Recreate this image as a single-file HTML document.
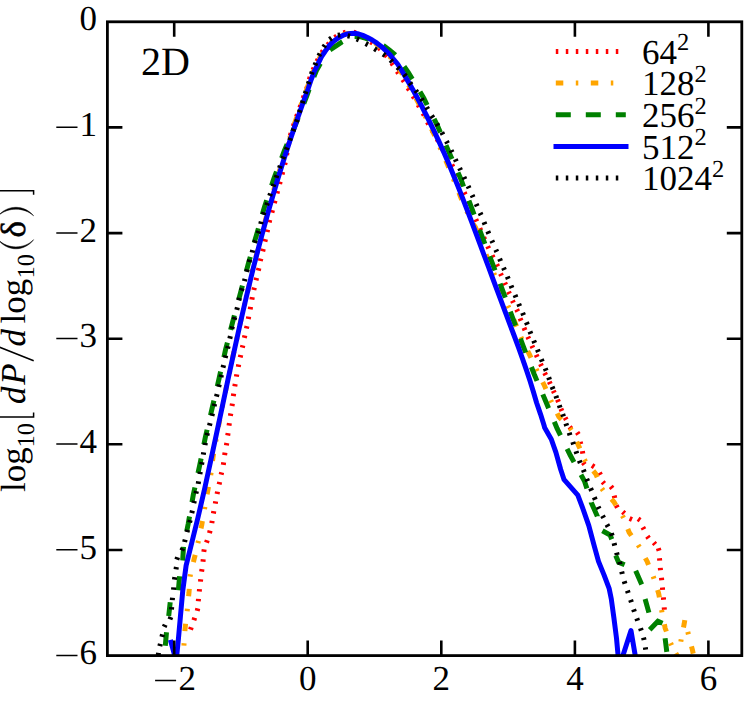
<!DOCTYPE html>
<html><head><meta charset="utf-8"><title>2D PDF</title>
<style>html,body{margin:0;padding:0;background:#fff}svg{display:block}text{text-rendering:geometricPrecision}</style></head>
<body>
<svg width="748" height="703" viewBox="0 0 748 703">
<rect width="748" height="703" fill="#fff"/>
<defs><clipPath id="c"><rect x="107.4" y="21.8" width="634.4" height="633.8000000000001"/></clipPath></defs>
<g clip-path="url(#c)" fill="none" stroke-width="5" stroke-linejoin="miter" stroke-linecap="butt">
<path d="M190.5,629.6L191.3,627.2 M193.9,620.2L194.7,617.8 M197.2,610.8L197.8,608.4 M198.3,601.3L198.5,598.9 M199.3,591.5L199.5,589.1 M200.5,581.6L200.7,579.2 M201.6,571.6L202.0,569.2 M203.0,561.7L203.2,559.3 M203.8,551.8L204.2,549.4 M206.5,542.6L207.3,540.2 M209.5,533.1L210.1,530.7 M211.8,523.2L212.2,520.8 M213.4,513.5L213.8,511.1 M215.3,503.7L215.7,501.3 M217.1,494.0L217.5,491.6 M219.1,484.4L219.7,482.0 M221.1,474.7L221.7,472.3 M223.3,464.8L223.7,462.4 M224.6,455.1L225.0,452.7 M226.4,445.4L226.8,443.0 M227.7,435.5L228.1,433.1 M229.0,425.6L229.4,423.2 M230.4,415.9L230.8,413.5 M232.0,406.0L232.4,403.6 M233.3,396.1L233.7,393.7 M234.8,386.4L235.2,384.0 M236.4,376.7L236.8,374.3 M238.3,366.9L238.7,364.5 M240.2,357.4L240.8,355.0 M242.3,347.7L242.9,345.3 M244.3,337.9L244.9,335.5 M246.4,328.5L247.0,326.1 M248.3,319.0L248.7,316.6 M250.2,309.3L250.6,306.9 M251.9,299.6L252.3,297.2 M253.8,290.0L254.4,287.6 M256.0,280.3L256.6,277.9 M258.3,270.6L258.9,268.2 M260.3,261.0L260.9,258.6 M262.7,251.3L263.3,248.9 M264.9,241.6L265.5,239.2 M267.1,232.0L267.7,229.6 M269.2,222.3L269.8,219.9 M271.9,212.6L272.5,210.2 M274.4,203.1L275.0,200.7 M277.0,193.4L277.6,191.0 M279.6,184.0L280.2,181.6 M282.1,174.3L282.7,171.9 M284.7,164.7L285.3,162.3 M286.6,155.0L287.0,152.6 M288.4,145.3L288.8,142.8 M290.4,135.6L291.0,133.2 M293.3,126.2L294.1,123.8 M296.5,116.9L297.4,114.5 M299.9,107.6L300.7,105.2 M303.2,98.3L304.0,95.9 M306.6,89.0L307.4,86.6 M309.3,79.5L310.1,77.1 M313.0,70.0L314.0,67.8 M316.9,61.4L318.1,59.2 M321.7,52.8L323.1,50.8 M327.6,44.9L329.2,43.1 M334.7,37.5L336.7,36.1 M343.3,32.9L345.7,32.3 M353.6,32.3L356.0,32.9 M362.4,36.5L364.6,37.8 M370.7,41.9L372.7,43.3 M378.7,47.7L380.5,49.3 M385.4,54.6L387.0,56.6 M391.7,63.0L393.1,65.0 M397.1,71.4L398.5,73.4 M402.7,79.6L404.1,81.6 M407.9,87.9L409.3,90.1 M413.1,96.1L414.3,98.3 M418.1,104.7L419.3,106.9 M423.0,113.2L424.2,115.4 M427.4,122.0L428.6,124.2 M432.3,130.5L433.5,132.7 M437.1,139.1L438.3,141.3 M441.8,147.8L443.0,150.0 M446.4,156.5L447.6,158.7 M451.8,164.7L453.0,166.9 M456.0,173.9L457.0,176.2 M460.1,183.1L461.1,185.4 M464.2,192.4L465.2,194.6 M468.1,201.3L469.1,203.6 M471.9,210.3L472.9,212.6 M475.8,219.3L476.8,221.5 M479.8,228.3L480.8,230.5 M483.7,237.3L484.7,239.5 M487.7,246.3L488.7,248.5 M492.1,255.4L493.3,257.6 M496.7,264.4L497.7,266.6 M500.5,273.6L501.5,275.8 M504.7,282.7L505.7,284.9 M508.5,291.7L509.5,293.9 M512.4,300.6L513.4,302.8 M516.7,309.4L517.7,311.6 M520.1,318.4L521.1,320.8 M524.0,327.8L525.0,330.2 M527.8,336.7L528.8,338.9 M531.9,345.7L532.9,347.9 M536.2,354.8L537.2,357.0 M540.5,363.9L541.5,366.1 M544.6,372.9L545.8,375.1 M549.3,381.8L550.3,384.0 M553.3,390.7L554.3,392.9 M557.5,399.6L558.5,402.0 M560.9,408.8L561.9,411.0 M565.1,417.6L566.3,419.8 M569.6,426.9L571.2,428.9 M577.1,432.4L578.5,434.4 M580.2,441.8L580.8,444.2 M582.4,451.2L582.8,453.6 M583.0,462.5L584.6,464.5 M592.0,465.4L594.2,466.8 M599.4,472.7L600.6,474.9 M602.6,481.9L604.2,483.7 M610.8,486.4L612.4,488.4 M614.2,495.6L614.8,498.0 M616.2,505.4L617.4,507.6 M622.7,511.8L624.5,513.4 M629.6,518.5L632.0,519.5 M638.1,518.8L640.1,520.2 M642.8,527.2L644.0,529.4 M647.3,536.3L648.7,538.3 M653.7,542.6L655.3,544.4 M658.3,548.3L659.1,550.7 M659.5,558.2L659.7,560.6 M660.3,567.9L660.5,570.3 M661.5,577.8L661.7,580.2 M662.4,587.5L662.6,589.9 M663.4,597.4L663.6,599.8 M664.2,607.4L664.4,609.8" stroke="#ff0000"/>
<path d="M183.9,645.6L184.1,643.2 M184.9,631.1L185.2,627.4L185.6,623.7 M187.2,611.2L187.4,608.8 M188.6,596.3L189.0,592.6L189.3,588.9 M190.1,576.7L190.5,574.3 M193.4,562.1L194.3,558.4L195.2,554.8 M197.9,543.2L198.5,540.8 M201.0,528.4L201.8,524.7L202.4,521.0 M204.5,509.2L204.9,506.8 M207.1,494.3L207.8,490.6L208.5,486.9 M210.7,475.1L211.1,472.7 M212.5,461.0L213.0,457.3L213.6,453.6 M215.8,441.4L216.2,439.0 M218.4,426.8L219.8,419.5 M222.2,407.3L222.7,404.9 M225.2,392.8L226.7,385.5 M229.3,373.4L229.8,370.9 M232.4,358.9L234.0,351.5 M236.7,339.5L237.2,337.0 M239.9,325.0L241.0,320.0L241.5,317.7 M244.3,305.6L244.9,303.2 M247.7,291.2L249.4,283.9 M252.2,271.9L252.8,269.4 M255.8,257.4L257.6,250.2 M260.6,238.2L261.2,235.8 M264.4,223.8L266.4,216.6 M269.6,204.7L270.3,202.3 M273.7,190.4L275.7,183.2 M279.3,171.4L280.0,169.0 M283.6,157.2L285.9,150.0 M289.7,138.2L290.4,135.9 M294.3,124.2L295.6,120.5L296.8,117.1 M300.9,105.4L301.7,103.1 M306.0,91.5L306.9,88.8L308.4,84.4 M312.6,72.8L313.6,70.5 M319.0,59.4L320.2,56.8L322.8,52.9 M330.4,43.2L332.3,41.6 M342.6,35.0L345.6,34.0L349.6,33.4L349.9,33.4 M361.9,35.7L364.2,36.7 M374.9,42.8L375.4,43.2L380.0,46.7L380.8,47.4 M389.5,56.1L391.1,58.1 M398.5,67.9L399.5,69.5L402.4,74.3 M408.6,85.0L409.8,87.2 M415.8,98.0L419.3,104.6 M425.0,115.6L426.1,117.8 M431.5,128.9L431.9,129.8L434.7,135.7 M439.8,147.0L440.8,149.2 M445.8,160.6L447.3,164.1L448.7,167.5 M453.4,178.9L454.3,181.2 M458.9,192.7L461.1,198.3L461.7,199.6 M466.8,210.9L467.8,213.2 M473.3,224.2L475.4,227.3L476.8,230.8 M480.8,240.5L481.8,242.9 M486.0,254.3L487.3,257.8L488.8,261.3 M493.8,273.2L494.8,275.4 M499.7,286.9L501.2,290.3L502.7,293.7 M507.9,305.7L508.9,307.9 M513.7,319.5L515.2,323.0L516.6,326.5 M520.9,337.0L521.9,339.2 M527.7,351.0L529.4,354.4L531.0,357.8 M536.2,369.0L537.2,371.2 M542.7,382.1L544.4,385.5L545.9,388.9 M550.7,400.2L551.7,402.4 M557.2,413.3L558.9,416.7L561.5,419.4 M570.0,428.1L571.4,430.1 M576.8,441.8L578.4,445.2L579.9,448.6 M584.4,459.5L585.6,461.7 M593.3,470.9L595.7,473.8L597.2,477.2 M601.8,488.5L603.2,490.5 M611.5,499.2L614.0,502.0L615.9,505.2 M622.4,515.7L623.6,517.9 M627.8,529.0L629.2,532.5L631.4,535.6 M638.1,545.0L639.5,547.2 M645.3,558.1L647.1,561.4L648.5,564.9 M653.2,576.4L654.0,578.8 M657.6,590.1L658.7,593.7L659.4,597.4 M661.6,610.0L662.0,612.4 M664.4,624.3L665.1,628.0L666.4,631.5 M670.6,643.1L671.6,645.3 M675.8,653.2L677.6,656.5L677.9,660.2 M680.8,641.7L681.2,639.3 M683.5,627.5L684.2,623.8L684.8,620.1 M687.8,631.9L688.4,634.3 M691.5,646.3L692.4,649.9L693.2,653.6" stroke="#ffa500"/>
<path d="M186.7,531.3L188.2,523.9L189.5,516.5 M192.0,502.2L193.3,494.8L194.9,487.5 M198.0,473.1L199.6,465.8L201.1,458.4 M203.9,444.4L205.4,437.0L207.1,429.7 M210.5,415.2L212.2,407.9L213.9,400.6 M217.3,386.2L219.0,378.9L220.6,371.6 M223.9,357.2L225.5,349.9L227.4,342.6 M230.6,329.9L232.5,322.6L234.4,315.4 M238.6,300.0L240.5,292.8L242.4,285.6 M246.3,271.3L248.2,264.1L250.3,256.9 M254.2,242.8L256.3,235.6L258.4,228.4 M262.3,214.5L264.4,207.3L266.7,200.2 M271.6,185.6L273.9,178.5L276.5,171.5 M281.6,158.2L284.2,151.2L287.1,144.3 M292.6,131.6L295.5,124.7L298.2,117.7 M303.8,103.5L306.5,96.5L309.1,89.5 M313.9,76.9L316.7,69.9L320.4,63.4 M329.9,50.0L330.0,49.8L336.1,45.8L341.7,42.1L342.4,41.7 M354.6,36.6L360.0,36.7L366.0,38.3L369.1,39.5 M383.5,45.8L384.0,46.0L389.6,50.1L395.2,54.8L395.3,54.9 M404.1,66.5L408.4,72.7L412.3,79.1 M420.0,91.8L423.8,98.3L427.1,105.0 M434.1,118.9L437.4,125.6L440.4,132.5 M446.0,145.3L449.0,152.2L452.0,159.1 M458.0,172.6L461.0,179.5L463.6,186.5 M468.9,200.6L471.5,207.6L474.1,214.6 M479.6,229.8L482.2,236.8L484.9,243.8 M489.7,256.3L492.4,263.3L495.0,270.3 M500.1,283.6L502.7,290.6L505.3,297.6 M510.3,311.7L512.9,318.7L515.5,325.7 M520.4,338.7L523.0,345.7L525.7,352.7 M531.4,367.0L534.1,374.0L537.0,380.9 M542.8,394.4L545.7,401.3L548.6,408.2 M554.3,421.7L557.2,428.6L560.5,435.3 M567.1,448.8L570.4,455.5L574.0,462.1 M581.0,474.8L584.6,481.4L586.9,488.6 M591.3,502.5L591.3,502.6L597.3,516.2L597.3,516.3 M165.3,645.8L166.5,632.2 M168.7,615.9L170.2,602.3 M178.4,590.3L179.6,576.2 M182.7,560.5L183.5,546.8 M602.4,530.7L610.1,535.0L611.8,539.2 M615.7,555.5L618.6,562.3L624.6,564.8 M635.7,570.8L641.7,584.5 M645.1,599.0L648.9,612.7 M649.7,629.7L657.9,621.2L662.5,623.2 M665.1,638.3L666.8,651.9" stroke="#008000"/>
<path d="M170.4,639.8L176.2,661.0L178.4,639.0L180.4,616.8L182.7,591.2L186.1,565.6L191.7,543.0L198.1,517.0L204.8,488.0L211.1,459.0L217.3,430.0L222.2,407.0L228.3,378.0L234.6,349.0L241.0,320.0L246.3,297.0L253.3,268.0L260.8,239.0L268.7,210.0L271.4,200.7L277.4,180.2L284.3,158.0L290.4,139.2L296.8,120.5L304.0,100.0L308.1,88.8L311.2,79.5L314.3,71.5L318.0,63.8L321.4,56.8L325.3,51.0L329.4,45.4L334.0,41.0L338.8,37.4L342.8,35.4L346.8,34.0L350.8,33.4L354.8,33.3L358.8,34.0L362.8,35.4L367.5,37.5L372.2,40.0L377.0,43.2L381.6,46.7L385.8,50.6L389.6,54.2L393.0,58.5L397.6,64.0L401.1,69.5L406.5,78.6L414.3,92.3L421.2,105.1L428.0,118.5L433.5,129.8L438.9,141.4L444.0,152.8L448.9,164.1L453.6,175.5L458.2,186.9L462.7,198.3L467.1,209.8L471.5,221.4L475.8,232.8L480.0,244.1L484.2,255.5L488.5,266.9L492.7,278.3L497.0,289.8L501.3,301.4L505.6,312.8L509.8,324.1L514.1,335.5L518.3,346.9L522.4,358.3L526.3,369.6L529.9,380.5L533.3,391.4L536.6,402.8L540.5,414.1L544.1,425.5L544.7,427.8L551.3,439.2L555.9,452.4L560.7,469.5L564.1,479.7L577.8,495.1L582.9,508.7L588.8,525.6L593.8,544.4L598.5,561.4L604.1,575.1L609.2,588.7L611.3,599.0L613.9,617.8L616.5,638.3L618.5,660.0L621.5,660.0L631.0,630.6L636.0,660.0" stroke="#0000ff" stroke-linejoin="round"/>
<path d="M158.2,655.2L158.6,652.8 M159.8,646.2L160.4,643.8 M161.9,636.8L162.5,634.4 M164.2,626.9L165.2,624.7 M169.9,619.4L170.9,617.0 M171.5,609.5L171.7,607.1 M172.3,600.1L172.5,597.7 M173.5,589.8L173.7,587.4 M174.4,579.6L174.8,577.2 M176.0,569.4L176.4,567.0 M176.8,559.6L177.6,557.2 M181.8,550.5L182.8,548.3 M184.6,542.0L185.2,539.6 M187.0,532.2L187.6,529.8 M189.6,522.5L190.2,520.1 M191.8,513.1L192.4,510.7 M193.8,503.2L194.4,500.8 M195.9,493.5L196.5,491.1 M198.2,483.8L198.6,481.4 M199.9,474.2L200.3,471.8 M201.6,464.5L202.0,462.1 M203.3,454.7L203.7,452.3 M205.0,445.2L205.4,442.8 M206.9,435.4L207.5,433.0 M209.5,425.6L210.1,423.2 M211.9,415.9L212.5,413.5 M214.1,406.2L214.7,403.8 M216.5,396.6L217.1,394.2 M218.7,386.9L219.3,384.5 M220.9,377.2L221.5,374.8 M223.0,367.6L223.6,365.2 M225.2,357.9L225.8,355.5 M227.6,348.5L228.2,346.1 M229.8,338.6L230.4,336.2 M231.8,328.9L232.4,326.5 M234.2,319.6L234.8,317.2 M236.8,309.8L237.4,307.4 M238.8,300.3L239.4,297.9 M241.4,290.6L242.2,288.2 M244.4,281.2L245.0,278.8 M246.7,271.8L247.3,269.4 M249.1,262.1L249.7,259.7 M252.1,252.5L252.7,250.1 M254.6,242.8L255.4,240.4 M258.0,233.4L258.8,231.0 M260.7,224.0L261.3,221.6 M263.2,214.6L264.0,212.2 M266.7,205.3L267.5,202.9 M269.7,195.9L270.5,193.5 M273.1,186.5L273.9,184.1 M276.1,177.7L276.9,175.3 M279.5,168.1L280.3,165.7 M282.9,158.9L283.7,156.5 M286.3,149.8L287.1,147.4 M289.7,140.4L290.5,138.0 M293.1,131.1L293.9,128.7 M296.5,122.0L297.3,119.6 M299.3,112.4L300.1,110.0 M302.2,103.2L303.0,100.8 M305.2,93.6L306.0,91.2 M308.3,84.0L309.1,81.6 M311.4,74.3L312.2,71.9 M314.9,65.3L315.9,62.9 M318.8,55.9L320.0,53.7 M323.6,47.1L325.0,45.1 M329.5,39.4L331.5,38.0 M337.8,35.3L340.2,34.9 M347.6,35.7L350.0,36.3 M356.7,38.9L358.9,39.9 M365.7,43.5L367.9,44.7 M374.4,48.7L376.6,50.1 M383.1,54.1L385.1,55.5 M390.5,60.1L392.3,61.9 M397.4,67.3L399.2,69.1 M404.2,74.2L405.8,76.2 M409.9,82.8L411.3,84.8 M415.7,90.4L417.1,92.4 M421.3,98.5L422.7,100.7 M426.6,107.1L427.8,109.3 M431.6,115.6L433.0,117.8 M436.8,123.6L438.0,125.8 M441.8,132.4L443.0,134.6 M446.4,141.2L447.6,143.4 M451.1,150.2L452.1,152.4 M455.3,159.3L456.3,161.5 M459.6,168.1L460.6,170.3 M463.9,177.0L464.9,179.2 M468.1,186.1L469.1,188.3 M472.1,195.1L473.1,197.3 M476.2,204.0L477.2,206.2 M480.1,212.9L481.1,215.1 M484.0,222.1L485.0,224.5 M487.8,231.3L488.8,233.7 M491.8,240.6L492.8,242.8 M495.8,249.7L496.8,251.9 M499.6,258.7L500.6,261.1 M503.5,267.8L504.5,270.0 M507.3,276.6L508.3,279.0 M511.0,285.6L512.0,288.0 M515.0,295.0L516.0,297.4 M518.7,303.9L519.7,306.3 M522.6,312.9L523.6,315.3 M526.4,322.3L527.4,324.7 M529.9,331.5L530.9,333.9 M533.7,340.6L534.7,343.0 M537.4,349.6L538.4,352.0 M541.3,359.2L542.3,361.6 M545.2,368.4L546.2,370.8 M548.7,377.4L549.5,379.8 M552.1,386.8L553.1,389.2 M555.9,395.9L556.7,398.3 M559.3,405.3L560.1,407.7 M562.7,414.1L563.5,416.5 M565.9,423.5L566.7,425.9 M569.2,432.8L570.0,435.2 M572.8,442.0L573.6,444.4 M576.0,451.2L576.8,453.6 M579.3,460.6L580.3,463.0 M583.3,469.7L584.3,472.1 M586.7,478.9L587.7,481.3 M590.6,488.3L591.6,490.7 M594.3,497.3L595.3,499.7 M598.1,506.7L599.1,508.9 M602.5,515.7L603.7,517.9 M606.9,524.5L608.1,526.7 M611.4,533.3L612.2,535.7 M614.1,543.2L614.7,545.6 M616.6,552.6L617.2,555.0 M619.5,561.9L620.1,564.3 M621.7,571.6L622.3,574.0 M624.2,581.3L625.0,583.7 M627.4,590.6L628.2,593.0 M630.6,599.9L631.4,602.3 M633.6,609.4L634.4,611.8 M636.8,618.4L637.6,620.8 M640.5,628.2L641.3,630.6 M643.5,637.6L644.1,640.0 M645.3,647.3L645.7,649.7" stroke="#000"/>
</g>
<path d="M555.8,51.4 L625.8,51.4" stroke="#ff0000" stroke-width="5" fill="none" stroke-dasharray="2.5 7.5"/>
<path d="M555.8,83.07 L625.8,83.07" stroke="#ffa500" stroke-width="5" fill="none" stroke-dasharray="7.5 12.5 2.5 12.5"/>
<path d="M555.8,114.73 L625.8,114.73" stroke="#008000" stroke-width="5" fill="none" stroke-dasharray="15 15"/>
<path d="M553.5,146.4 L628.5,146.4" stroke="#0000ff" stroke-width="5" fill="none"/>
<path d="M555.8,178.07 L625.8,178.07" stroke="#000" stroke-width="5" fill="none" stroke-dasharray="2.5 7.5"/>
<g font-family="Liberation Serif, serif" fill="#000" font-size="35">
<text x="642" y="63.7">64<tspan font-size="24.5" dy="-13.4">2</tspan></text>
<text x="642" y="95.3">128<tspan font-size="24.5" dy="-13.4">2</tspan></text>
<text x="642" y="127.0">256<tspan font-size="24.5" dy="-13.4">2</tspan></text>
<text x="642" y="158.6">512<tspan font-size="24.5" dy="-13.4">2</tspan></text>
<text x="642" y="190.3">1024<tspan font-size="24.5" dy="-13.4">2</tspan></text>
</g>
<rect x="107.4" y="21.8" width="634.4" height="633.8" fill="none" stroke="#000" stroke-width="2.8"/>
<path d="M174.2,21.8v15M174.2,655.6v-15M307.7,21.8v15M307.7,655.6v-15M441.3,21.8v15M441.3,655.6v-15M574.9,21.8v15M574.9,655.6v-15M708.4,21.8v15M708.4,655.6v-15M107.4,127.4h15M741.8,127.4h-15M107.4,233.1h15M741.8,233.1h-15M107.4,338.7h15M741.8,338.7h-15M107.4,444.3h15M741.8,444.3h-15M107.4,550.0h15M741.8,550.0h-15" stroke="#000" stroke-width="2.6" fill="none"/>
<g font-family="Liberation Serif, serif" fill="#000" font-size="35">
<text x="178.4" y="689.6">2</text>
<text x="307.7" y="689.6" text-anchor="middle">0</text>
<text x="441.3" y="689.6" text-anchor="middle">2</text>
<text x="574.9" y="689.6" text-anchor="middle">4</text>
<text x="708.4" y="689.6" text-anchor="middle">6</text>
<text x="96.9" y="30.4" text-anchor="end">0</text>
<text x="96.9" y="136.0" text-anchor="end">1</text>
<text x="96.9" y="241.7" text-anchor="end">2</text>
<text x="96.9" y="347.3" text-anchor="end">3</text>
<text x="96.9" y="452.9" text-anchor="end">4</text>
<text x="96.9" y="558.6" text-anchor="end">5</text>
<text x="96.9" y="664.2" text-anchor="end">6</text>
<text x="140.9" y="74.5" font-size="40">2D</text>
<path d="M155.1,680.5h21M56.3,127.2h21.2M56.3,232.9h21.2M56.3,338.5h21.2M56.3,444.1h21.2M56.3,549.8h21.2M56.3,655.4h21.2" stroke="#000" stroke-width="1.5" fill="none"/>
<g transform="translate(25.2,492) rotate(-90)">
<text x="0" y="0">log</text>
<text x="44.5" y="0" font-size="24.5" dy="8.7">10</text>
<text x="88.0" y="0" font-style="italic">d</text>
<text x="107.2" y="0" font-style="italic">P</text>
<text x="145.4" y="0" font-style="italic">d</text>
<text x="168.6" y="0">log</text>
<text x="213.5" y="0" font-size="24.5" dy="8.7">10</text>
<text x="254.4" y="0" stroke="#000" stroke-width="0.5">δ</text>
<path d="M79.5,-30H75V8.4H79.5M297.2,-30H301.3V8.4H297.2M131.2,8.5L146.2,-29" stroke="#000" stroke-width="1.5" fill="none"/>
<path d="M252.3,8.4C240.2,-1 240.2,-17.6 252.3,-27C242.7,-17.6 242.7,-1 252.3,8.4ZM276.2,8.4C287.5,-1 287.5,-17.6 276.2,-27C285,-17.6 285,-1 276.2,8.4Z" fill="#000" stroke="#000" stroke-width="0.5"/>
</g></g></svg>
</body></html>
